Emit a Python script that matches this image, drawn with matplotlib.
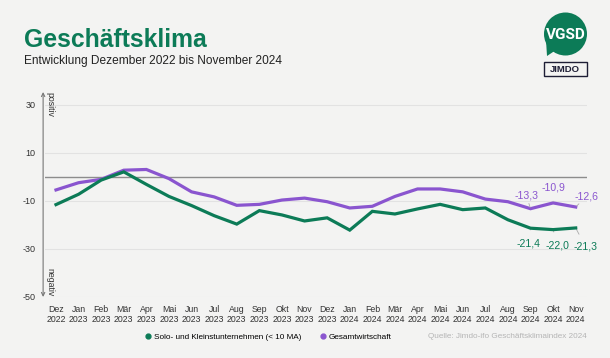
import matplotlib.pyplot as plt
from matplotlib.lines import Line2D
from matplotlib.patches import Circle, Polygon, Rectangle

plt.rcParams['font.family'] = ['Liberation Sans', 'DejaVu Sans']

# data
months = ['Dez', 'Jan', 'Feb', 'Mär', 'Apr', 'Mai', 'Jun', 'Jul', 'Aug', 'Sep', 'Okt', 'Nov',
          'Dez', 'Jan', 'Feb', 'Mär', 'Apr', 'Mai', 'Jun', 'Jul', 'Aug', 'Sep', 'Okt', 'Nov']
years = ['2022'] + ['2023'] * 12 + ['2024'] * 11
solo = [-11.6, -7.3, -1.4, 2.0, -3.2, -8.2, -12.0, -16.2, -19.7, -14.1, -15.9, -18.4,
        -17.1, -22.2, -14.4, -15.5, -13.4, -11.5, -13.7, -13.0, -17.9, -21.4, -22.0, -21.3]
gesamt = [-5.5, -2.5, -1.1, 2.7, 3.0, -0.8, -6.3, -8.4, -11.9, -11.5, -9.7, -8.9,
          -10.4, -13.0, -12.3, -8.2, -5.1, -5.1, -6.3, -9.3, -10.4, -13.3, -10.9, -12.6]
yticks = [30, 10, -10, -30, -50]

green = '#0c7b57'
purple = '#8a55cf'
bg = '#f3f3f2'

fig = plt.figure(figsize=(6.1, 3.58), dpi=100, facecolor=bg)
ax = fig.add_axes([44.7 / 610, 61 / 358, (587 - 44.7) / 610, (297 - 92) / 358])
ax.set_facecolor(bg)

x = list(range(len(months)))
ax.set_xlim(-0.5, 23.5)
ax.set_ylim(-50, 35.2)

for t in yticks:
    ax.axhline(t, color='#e2e2e2', lw=0.8, zorder=1)
ax.axhline(0, color='#8c8c8c', lw=1.0, zorder=2)

ax.plot(x, solo, color=green, lw=2.3, solid_joinstyle='miter', zorder=4)
ax.plot(x, gesamt, color=purple, lw=2.3, solid_joinstyle='miter', zorder=3)

for s in ax.spines.values():
    s.set_visible(False)
ax.set_yticks(yticks)
ax.set_yticklabels([str(t) for t in yticks], fontsize=6.5, color='#333333')
ax.set_xticks(x)
ax.set_xticklabels([m + '\n' + y for m, y in zip(months, years)], fontsize=6.3,
                   color='#333333', linespacing=1.15)
ax.tick_params(axis='y', length=0, pad=6.5)
ax.tick_params(axis='x', length=0, pad=6)

# vertical double arrow with positiv / negativ
ax.annotate('', xy=(-0.57, 35.2), xytext=(-0.57, -50), xycoords='data',
            arrowprops=dict(arrowstyle='<->', color='#777777', lw=0.8,
                            mutation_scale=6, shrinkA=0, shrinkB=0),
            annotation_clip=False)
ax.text(-0.28, 35.0, 'positiv', rotation=270, fontsize=6.3, va='top', ha='center',
        color='#333333')
ax.text(-0.28, -49.5, 'negativ', rotation=270, fontsize=6.3, va='bottom', ha='center',
        color='#333333')

# value labels for the last three months
solo_offsets = [(-2, -15), (4.6, -15.5), (10, -19)]
gesamt_offsets = [(-4, 13), (0.6, 15), (11, 11)]
for i, (so, go) in zip([21, 22, 23], zip(solo_offsets, gesamt_offsets)):
    ax.annotate(f'{solo[i]:.1f}'.replace('.', ','), xy=(i, solo[i]), xytext=so,
                textcoords='offset pixels', ha='center', va='center', fontsize=7.6,
                color=green,
                arrowprops=dict(arrowstyle='-', color='#aaaaaa', lw=0.6,
                                shrinkA=4, shrinkB=1))
    ax.annotate(f'{gesamt[i]:.1f}'.replace('.', ','), xy=(i, gesamt[i]), xytext=go,
                textcoords='offset pixels', ha='center', va='center', fontsize=7.6,
                color=purple,
                arrowprops=dict(arrowstyle='-', color='#aaaaaa', lw=0.6,
                                shrinkA=4, shrinkB=1))

# titles
fig.text(24 / 610, 1 - 47 / 358, 'Geschäftsklima', fontsize=17.8, fontweight='bold',
         color=green, ha='left', va='baseline')
fig.text(24 / 610, 1 - 64 / 358, 'Entwicklung Dezember 2022 bis November 2024',
         fontsize=8.6, color='#222222', ha='left', va='baseline')

# legend + source
handles = [Line2D([], [], marker='o', ls='none', color=green, markersize=3.5),
           Line2D([], [], marker='o', ls='none', color=purple, markersize=3.5)]
fig.legend(handles, ['Solo- und Kleinstunternehmen (< 10 MA)', 'Gesamtwirtschaft'],
           loc='center', bbox_to_anchor=(268 / 610, 1 - 337 / 358), ncol=2,
           frameon=False, fontsize=5.9, handletextpad=0.2, columnspacing=2.2,
           handlelength=1.0)
fig.text(587 / 610, 1 - 337 / 358, 'Quelle: Jimdo-ifo Geschäftsklimaindex 2024',
         fontsize=5.9, color='#b5b5b5', ha='right', va='center')

# logos
lax = fig.add_axes([0, 0, 1, 1])
lax.set_xlim(0, 610)
lax.set_ylim(358, 0)
lax.axis('off')
lax.add_patch(Circle((565.5, 34), 21.5, color=green, lw=0))
lax.add_patch(Polygon([[546, 40], [556, 50], [547, 56]], closed=True, color=green, lw=0))
lax.text(565.5, 35, 'VGSD', color='white', fontsize=11, fontweight='bold',
         ha='center', va='center', family=['Roboto', 'DejaVu Sans'])
lax.add_patch(Rectangle((543.5, 62), 43.5, 14, fill=False, edgecolor='#1d1d35', lw=1.0))
lax.text(565.25, 69.3, 'JIMDO', color='#1d1d35', fontsize=6.8, fontweight='bold',
         ha='center', va='center')

fig.savefig('out.png', dpi=100, facecolor=bg)
